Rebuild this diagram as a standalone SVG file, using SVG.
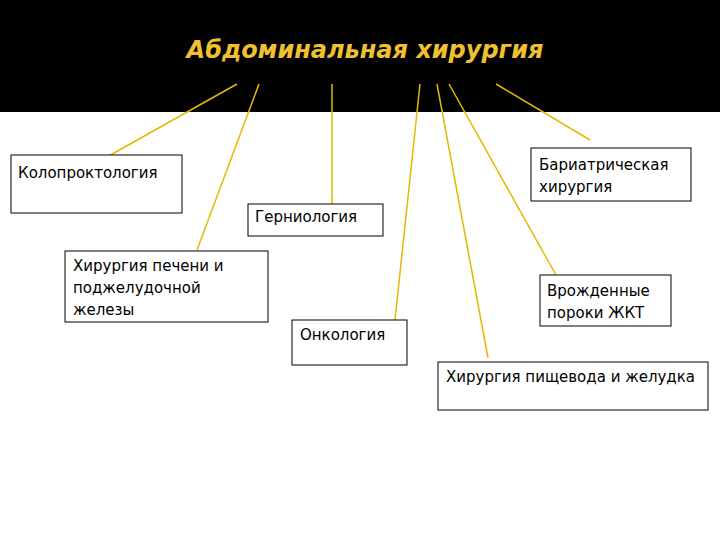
<svg xmlns="http://www.w3.org/2000/svg" width="720" height="540" viewBox="0 0 720 540">
<style>
.b{fill:#fff;stroke:#000;stroke-width:1}
.t{font-family:"DejaVu Sans","Liberation Sans",sans-serif;font-size:15px;fill:#000}
.c line{stroke:#e6b800;stroke-width:1.5}
</style>
<rect width="720" height="540" fill="#fff"/>
<rect width="720" height="112" fill="#000"/>
<text x="365" y="58" text-anchor="middle" font-family="'DejaVu Sans',sans-serif" font-size="24" font-weight="bold" font-style="italic" fill="#f0c030">Абдоминальная хирургия</text>
<g id="connectors" class="c">
<line x1="237" y1="84" x2="107" y2="157"/>
<line x1="259" y1="84" x2="197" y2="250"/>
<line x1="332" y1="84" x2="332" y2="205"/>
<line x1="420" y1="84" x2="395" y2="320"/>
<line x1="437" y1="84" x2="488" y2="358"/>
<line x1="449" y1="84" x2="556" y2="275"/>
<line x1="496" y1="84" x2="590" y2="140"/>
</g>
<g id="n1"><rect class="b" x="11" y="155" width="171" height="58"/><text class="t" x="18" y="178">Колопроктология</text></g>
<g id="n2"><rect class="b" x="531" y="148" width="160" height="53"/><text class="t" x="539" y="170">Бариатрическая</text><text class="t" x="539" y="192">хирургия</text></g>
<g id="n3"><rect class="b" x="248" y="204" width="135" height="32"/><text class="t" x="255" y="222">Герниология</text></g>
<g id="n4"><rect class="b" x="65" y="251" width="203" height="71"/><text class="t" x="73" y="271">Хирургия печени и</text><text class="t" x="73" y="293">поджелудочной</text><text class="t" x="73" y="315">железы</text></g>
<g id="n5"><rect class="b" x="540" y="275" width="131" height="51"/><text class="t" x="547" y="296">Врожденные</text><text class="t" x="547" y="318">пороки ЖКТ</text></g>
<g id="n6"><rect class="b" x="292" y="320" width="115" height="45"/><text class="t" x="300" y="340">Онкология</text></g>
<g id="n7"><rect class="b" x="438" y="362" width="270" height="48"/><text class="t" x="446" y="382">Хирургия пищевода и желудка</text></g>
</svg>
